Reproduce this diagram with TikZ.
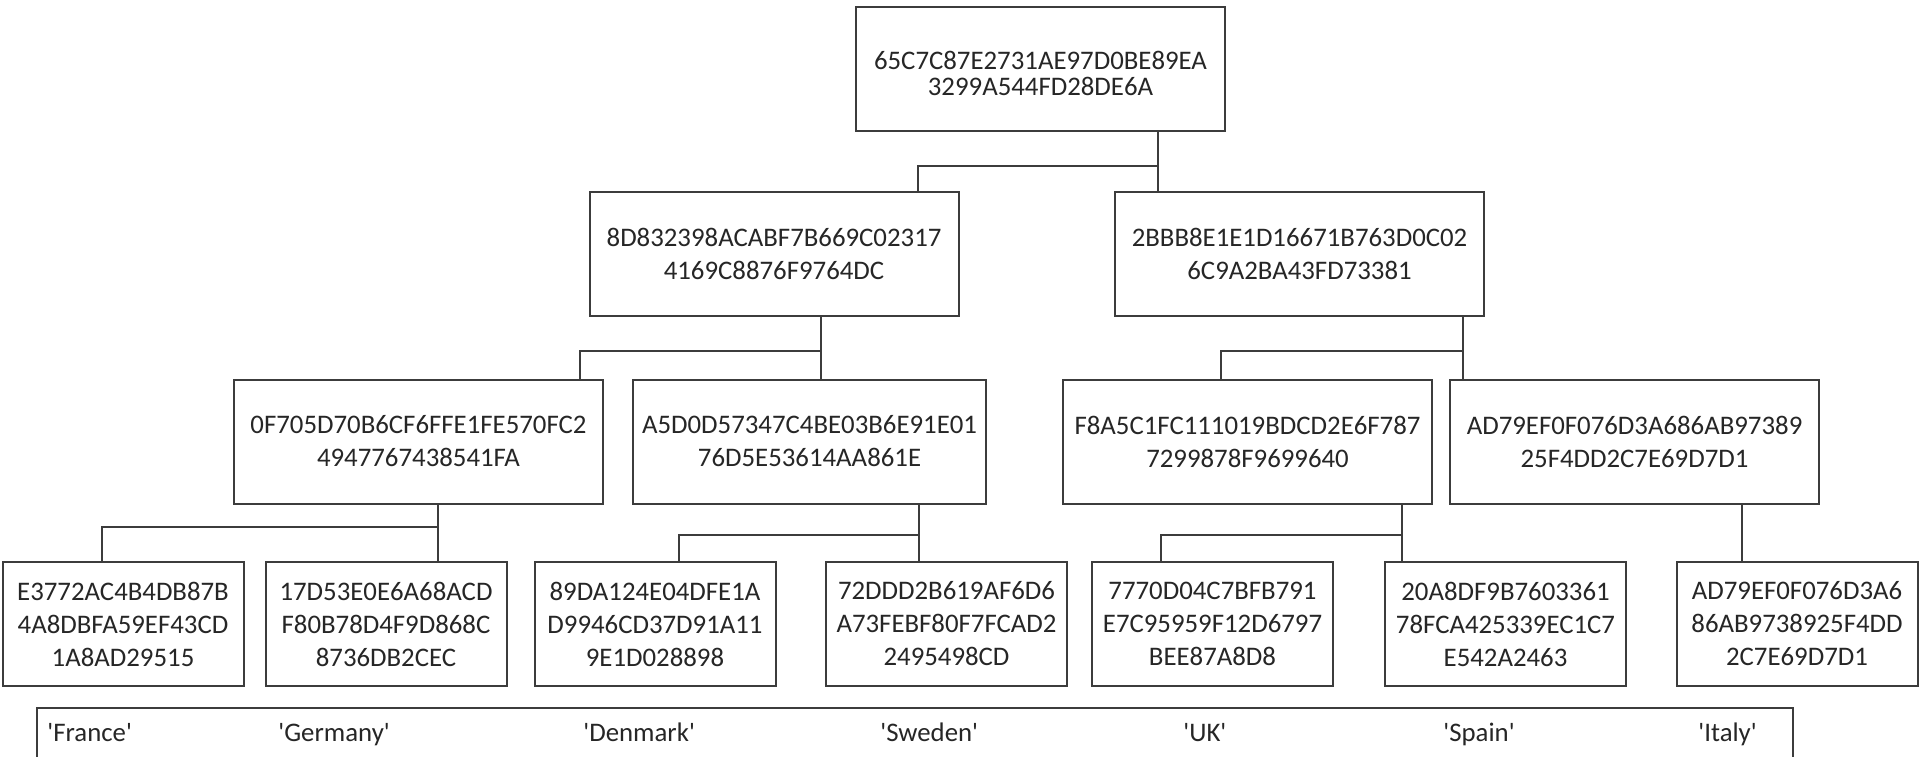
\documentclass[tikz,border=0pt]{standalone}
\usepackage{fontspec}
\setmainfont{Carlito}
\usepackage{xcolor}
\usepackage{tikz}
\usetikzlibrary{positioning}
\definecolor{hashink}{HTML}{262626}
\definecolor{hashline}{HTML}{3C3C3C}
\newcommand{\country}[1]{\textquotesingle#1\textquotesingle}

\begin{document}
\begin{tikzpicture}[
    x=0.5pt,
    y=-0.5pt,
    hashbox/.style={draw=hashline, line width=1pt, fill=white, text=hashink, align=center, inner sep=0pt, font=\fontsize{13.4}{16.5}\selectfont},
    bigbox/.style={hashbox, minimum width=184.5pt, minimum height=62pt},
    leafbox/.style={hashbox, minimum width=120.5pt, minimum height=62pt},
    link/.style={draw=hashline, line width=1pt},
    tag/.style={anchor=base west, text=hashink, inner sep=0pt, font=\fontsize{13.4}{16.5}\selectfont}
  ]
    \useasboundingbox (0,0) rectangle (1920,756);
    \clip (0,0) rectangle (1920,756);
    \fill[white] (0,0) rectangle (1920,756);

    % root hash
    \node[bigbox, font=\fontsize{13.4}{13.4}\selectfont] (H-top) at (1040.5,69) {\rule{0pt}{13.6pt}65C7C87E2731AE97D0BE89EA\\3299A544FD28DE6A};

    % second level
    \node[bigbox] (H-fr-se) at (774,254) {8D832398ACABF7B669C02317\\4169C8876F9764DC};
    \node[bigbox] (H-uk-it) at (1299.5,254) {2BBB8E1E1D16671B763D0C02\\6C9A2BA43FD73381};

    % third level
    \node[bigbox] (H-fr-de) at (418.5,441.5) {0F705D70B6CF6FFE1FE570FC2\\4947767438541FA};
    \node[bigbox, minimum width=176.5pt] (H-dk-se) at (809.5,441.5) {A5D0D57347C4BE03B6E91E01\\76D5E53614AA861E};
    \node[bigbox] (H-uk-es) at (1247.5,441.5) {F8A5C1FC111019BDCD2E6F787\\7299878F9699640};
    \node[bigbox] (H-it) at (1634.5,441.5) {AD79EF0F076D3A686AB97389\\25F4DD2C7E69D7D1};

    % leaves
    \node[leafbox] (H-france) at (123,624) {E3772AC4B4DB87B\\4A8DBFA59EF43CD\\1A8AD29515};
    \node[leafbox] (H-germany) at (386,624) {17D53E0E6A68ACD\\F80B78D4F9D868C\\8736DB2CEC};
    \node[leafbox] (H-denmark) at (655,624) {89DA124E04DFE1A\\D9946CD37D91A11\\9E1D028898};
    \node[leafbox] (H-sweden) at (946.5,624) {72DDD2B619AF6D6\\A73FEBF80F7FCAD2\\2495498CD};
    \node[leafbox] (H-uk) at (1212.5,624) {7770D04C7BFB791\\E7C95959F12D6797\\BEE87A8D8};
    \node[leafbox] (H-spain) at (1505.5,624) {20A8DF9B7603361\\78FCA425339EC1C7\\E542A2463};
    \node[leafbox] (H-italy) at (1797,624) {AD79EF0F076D3A6\\86AB9738925F4DD\\2C7E69D7D1};

    % elbow links
    \foreach \pa/\ka/\kb/\xa/\xb/\yj in {
        H-top/H-fr-se/H-uk-it/918/1158/166,
        H-fr-se/H-fr-de/H-dk-se/580/821/351,
        H-uk-it/H-uk-es/H-it/1221/1463/351,
        H-fr-de/H-france/H-germany/102/438/527,
        H-dk-se/H-denmark/H-sweden/679/919/535,
        H-uk-es/H-uk/H-spain/1161/1402/535} {
      \coordinate (ja) at (\xa,\yj);
      \coordinate (jb) at (\xb,\yj);
      \draw[link] (\pa.south -| jb) -- (jb) -- (ja) -- (\ka.north -| ja);
      \draw[link] (jb) -- (\kb.north -| jb);
    }
    \coordinate (jit) at (1742,530);
    \draw[link] (H-it.south -| jit) -- (H-italy.north -| jit);

    % country strip
    \node[draw=hashline, line width=1pt, minimum width=878pt, minimum height=44pt, inner sep=0pt] (legend) at (915,752) {};
    \foreach \name/\xpos in {France/47, Germany/278, Denmark/583, Sweden/880, UK/1183, Spain/1443, Italy/1698} {
      \node[tag] (T-\name) at (\xpos,741) {\country{\name}};
    }

\end{tikzpicture}
\end{document}
